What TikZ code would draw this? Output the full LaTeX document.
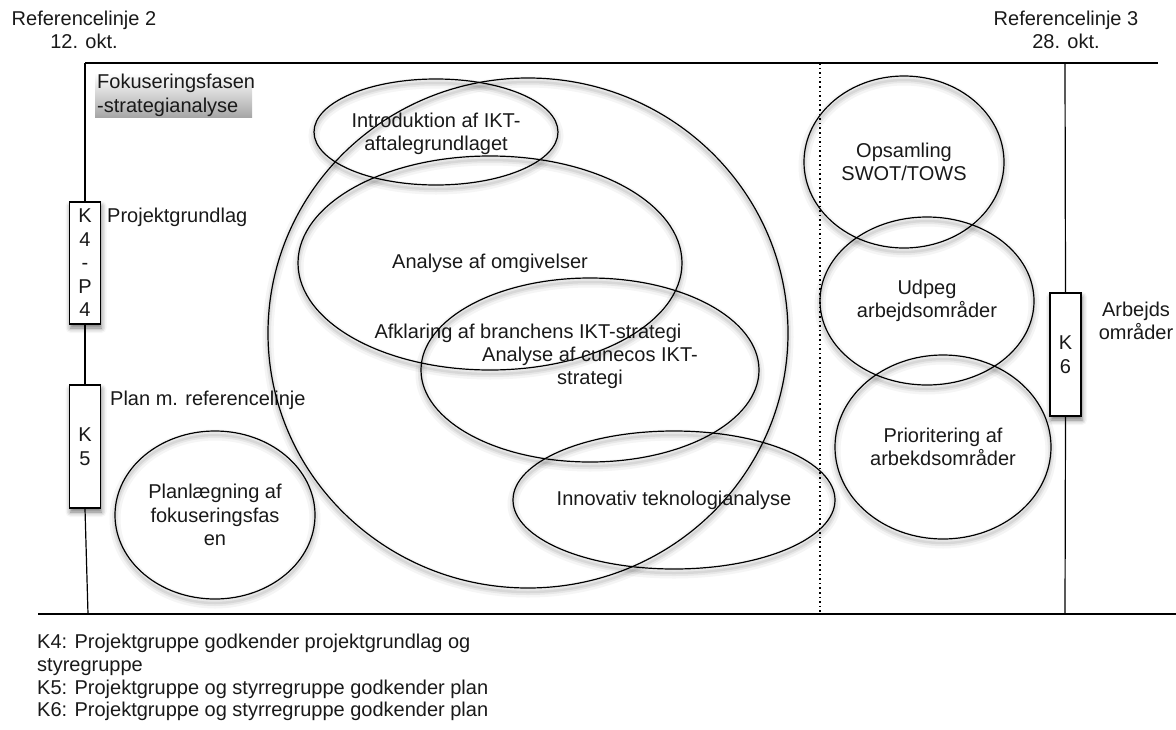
\documentclass[tikz,border=0pt]{standalone}
\usepackage{fontspec}
\setmainfont{Liberation Sans}
\usetikzlibrary{shapes.geometric,shadows.blur}

\begin{document}
\begin{tikzpicture}[x=1pt,y=-1pt,
  every node/.style={font=\fontsize{20}{23.5}\selectfont, text=black!90},
  line/.style={line width=1.2pt},
  kbox/.style={draw, line width=1.2pt, fill=white, minimum width=31pt,
    inner sep=0pt, align=center,
    blur shadow={shadow xshift=1pt, shadow yshift=-4pt,
      shadow blur radius=5pt, shadow opacity=55}},
  halo/.style={
    preaction={draw=black, draw opacity=0.04, line width=11pt,
      transform canvas={yshift=-4pt}},
    preaction={draw=black, draw opacity=0.06, line width=6pt,
      transform canvas={yshift=-4pt}},
    preaction={draw=black, draw opacity=0.07, line width=2.5pt,
      transform canvas={yshift=-4pt}}},
  zone/.style={ellipse, draw, line width=1.2pt, inner sep=0pt, halo},
  caption/.style={align=center, inner sep=0pt},
]
\useasboundingbox (0,0) rectangle (1176,729);

% reference dates above the frame
\node[caption] (ref2) at (84,30) {Referencelinje 2\\12. okt.};
\node[caption] (ref3) at (1066,30) {Referencelinje 3\\28. okt.};

% phase title
\node[anchor=north west, top color=white, bottom color=black!35,
  text width=153pt, inner xsep=2pt, inner ysep=1pt, minimum height=44pt,
  align=left] (phase) at (95,73) {Fokuseringsfasen\\-strategianalyse};

% frame corners and ends
\coordinate (topL) at (85,63);
\coordinate (topR) at (1158,63);
\coordinate (botL) at (38,614);
\coordinate (botR) at (1176,614);
\coordinate (leftEnd) at (88,614);
\coordinate (rightTop) at (1065,63);
\coordinate (rightEnd) at (1065,614);
\coordinate (dotTop) at (820,63);
\coordinate (dotEnd) at (820,612);

% milestone boxes
\node[kbox, minimum height=122pt] (k4) at (85,263) {K\\4\\-\\P\\4};
\node[kbox, minimum height=123pt] (k5) at (85,446.5) {K\\5};
\node[kbox, minimum height=123pt] (k6) at (1065.5,354.5) {K\\6};

% milestone captions
\node[anchor=west, inner sep=1pt] (k4text) at (106,217) {Projektgrundlag};
\node[anchor=west, inner sep=1pt, fill=white] (k5text) at (109,400) {Plan m. referencelinje};
\node[caption] (k6text) at (1136,321) {Arbejds\\områder};

% frame lines
\draw[line] (topL) -- (topR);
\draw[line] (botL) -- (botR);
\draw[line] (topL) -- (k4.north);
\draw[line] (k4.south) -- (k5.north);
\draw[line] (k5.south) -- (leftEnd);
\draw[line] (rightTop) -- (k6.north);
\draw[line] (k6.south) -- (rightEnd);
\draw[line, dash pattern=on 1.6pt off 3pt] (dotTop) -- (dotEnd);

% activities of the phase
\node[zone, minimum width=520pt, minimum height=510pt,
  label={[caption]center:Afklaring af branchens IKT-strategi}] (branche) at (528,333) {};
\node[zone, minimum width=244pt, minimum height=106pt,
  label={[caption, yshift=-2pt]center:Introduktion af IKT-\\aftalegrundlaget}] (intro) at (436,132) {};
\node[zone, minimum width=384pt, minimum height=214pt,
  label={[caption]center:Analyse af omgivelser}] (omgiv) at (490,263) {};
\node[zone, minimum width=338pt, minimum height=184pt,
  label={[caption, yshift=2pt]center:Analyse af cunecos IKT-\\strategi}] (cunecos) at (590,370) {};
\node[zone, minimum width=322pt, minimum height=138pt,
  label={[caption]center:Innovativ teknologianalyse}] (innov) at (674,500) {};
\node[zone, minimum width=200pt, minimum height=168pt,
  label={[caption]center:Planlægning af\\fokuseringsfas\\en}] (plan) at (215,515) {};

% closing activities
\node[zone, minimum width=200pt, minimum height=172pt,
  label={[caption]center:Opsamling\\SWOT/TOWS}] (swot) at (904,162) {};
\node[zone, minimum width=214pt, minimum height=168pt,
  label={[caption]center:Udpeg\\arbejdsområder}] (udpeg) at (927,301) {};
\node[zone, minimum width=216pt, minimum height=184pt,
  label={[caption]center:Prioritering af\\arbekdsområder}] (prior) at (943,447) {};

% legend
\node[anchor=north west, align=left, inner sep=0pt,
  font=\fontsize{20}{22.7}\selectfont] (legend) at (37,634)
  {K4: Projektgruppe godkender projektgrundlag og\\
   styregruppe\\
   K5: Projektgruppe og styrregruppe godkender plan\\
   K6: Projektgruppe og styrregruppe godkender plan};
\end{tikzpicture}
\end{document}
